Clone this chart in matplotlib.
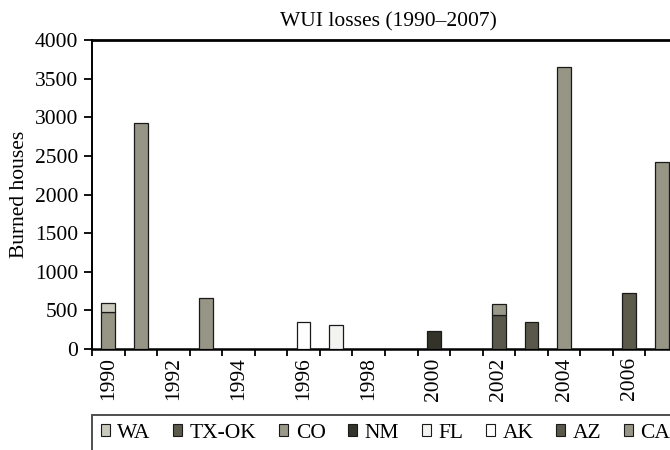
import matplotlib
matplotlib.use("Agg")
import matplotlib.pyplot as plt
from matplotlib.patches import Patch
from matplotlib.ticker import FixedLocator, NullFormatter

plt.rcParams["font.family"] = ["Liberation Serif", "DejaVu Serif"]
plt.rcParams["font.size"] = 15.5

years = list(range(1990, 2008))
states = ["WA", "TX-OK", "CO", "NM", "FL", "AK", "AZ", "CA"]
state_colors = ["#c9c9bd", "#5c5a4b", "#9a9888", "#33332a",
                "#f3f3f1", "#ffffff", "#5a584a", "#979585"]

#            90   91    92 93   94 95 96   97   98 99 00   01 02   03   04    05 06   07
wa    = [125,   0,    0,   0, 0, 0,   0,   0, 0, 0,   0, 0,   0,   0,    0, 0,   0,    0]
tx_ok = [  0,   0,    0,   0, 0, 0,   0,   0, 0, 0,   0, 0,   0,   0,    0, 0, 725,    0]
co    = [  0,   0,    0,   0, 0, 0,   0,   0, 0, 0,   0, 0, 142,   0,    0, 0,   0,    0]
nm    = [  0,   0,    0,   0, 0, 0,   0,   0, 0, 0, 233, 0,   0,   0,    0, 0,   0,    0]
fl    = [  0,   0,    0,   0, 0, 0,   0, 307, 0, 0,   0, 0,   0,   0,    0, 0,   0,    0]
ak    = [  0,   0,    0,   0, 0, 0, 345,   0, 0, 0,   0, 0,   0,   0,    0, 0,   0,    0]
az    = [  0,   0,    0,   0, 0, 0,   0,   0, 0, 0,   0, 0, 436, 345,    0, 0,   0,    0]
ca    = [475, 2925,   0, 655, 0, 0,   0,   0, 0, 0,   0, 0,   0,   0, 3650, 0,   0, 2420]

series = dict(zip(states, [wa, tx_ok, co, nm, fl, ak, az, ca]))
color_of = dict(zip(states, state_colors))
stack_order = ["AZ", "CA", "TX-OK", "NM", "FL", "AK", "CO", "WA"]

fig = plt.figure(figsize=(6.7, 4.5), dpi=100)
ax = fig.add_axes([92 / 670, 1 - 349 / 450, 586 / 670, 309 / 450])

x = list(range(len(years)))
bottom = [0] * len(years)
for name in stack_order:
    vals = series[name]
    idx = [i for i, v in enumerate(vals) if v > 0]
    ax.bar([x[i] for i in idx], [vals[i] for i in idx], width=0.42,
           bottom=[bottom[i] for i in idx], color=color_of[name],
           edgecolor="#1a1a1a", linewidth=0.9, zorder=3)
    bottom = [b + v for b, v in zip(bottom, vals)]

ax.set_xlim(-0.5, len(years) - 0.5)
ax.set_ylim(0, 4000)
ax.set_yticks(range(0, 4001, 500))

# year labels on every other category, tick marks between categories
ax.set_xticks(x[::2])
ax.set_xticklabels([str(y) for y in years[::2]], rotation=90)
ax.xaxis.set_minor_locator(FixedLocator([i - 0.5 for i in range(len(years) + 1)]))
ax.xaxis.set_minor_formatter(NullFormatter())
ax.tick_params(axis="x", which="major", length=0, pad=6)
ax.tick_params(axis="x", which="minor", length=5, width=1.3, direction="out")
ax.tick_params(axis="y", length=6, width=1.3, direction="out", pad=4)

ax.spines["right"].set_visible(False)
ax.spines["top"].set_linewidth(2.0)
ax.spines["bottom"].set_linewidth(1.8)
ax.spines["left"].set_linewidth(1.4)

ax.set_ylabel("Burned houses", labelpad=4)
ax.set_title("WUI losses (1990\u20132007)", pad=10, fontsize=15.5, x=0.506)

handles = [Patch(facecolor=color_of[s], edgecolor="#1a1a1a", linewidth=0.8)
           for s in states]
leg = fig.legend(handles, states, loc="upper left",
                 bbox_to_anchor=(92 / 670, 1 - 415 / 450), ncol=len(states),
                 frameon=True, fancybox=False, edgecolor="#222222",
                 handlelength=0.42, handleheight=0.42, handletextpad=0.35,
                 columnspacing=1.05, borderpad=0.4, borderaxespad=0)
leg.get_frame().set_linewidth(1.4)

fig.savefig("out.png", dpi=100)
